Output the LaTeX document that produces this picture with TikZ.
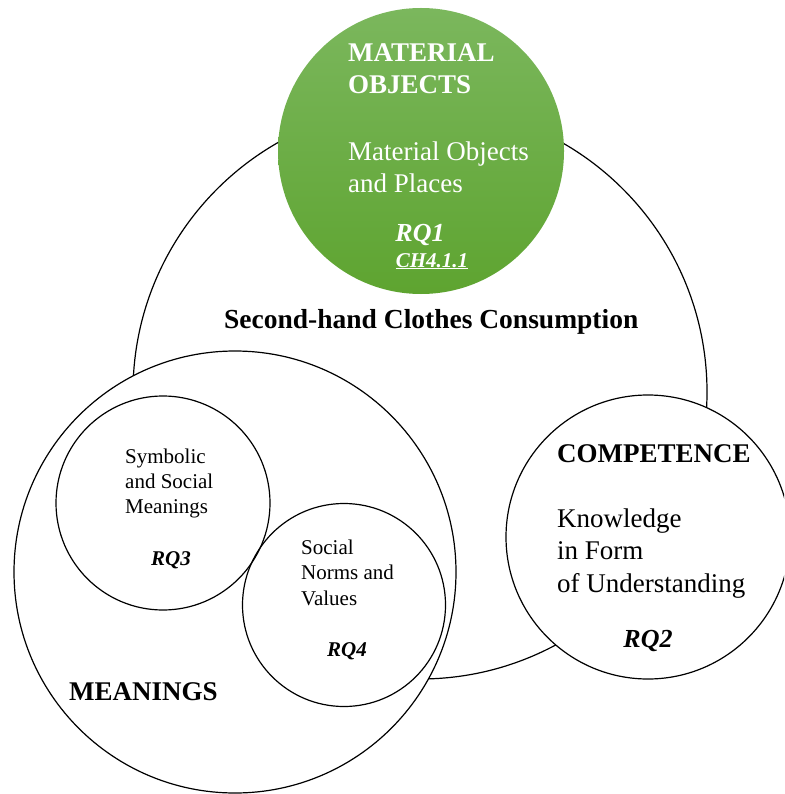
\documentclass[tikz,border=0pt]{standalone}
\usepackage{fontspec}
\setmainfont{Liberation Serif}
\definecolor{mogreentop}{RGB}{123,183,93}
\definecolor{mogreenbot}{RGB}{94,164,48}
\tikzset{
  ring/.style={draw,circle,line width=1.2pt,fill=white,inner sep=0pt},
  bigtext/.style={font=\fontsize{27}{32.5}\selectfont,align=left,inner sep=0pt,anchor=base west},
  smalltext/.style={font=\fontsize{21}{25}\selectfont,align=left,inner sep=0pt,anchor=base west},
  rqtext/.style={font=\bfseries\itshape,inner sep=0pt,anchor=base}
}
\begin{document}
\begin{tikzpicture}[x=1pt,y=-1pt]
  \useasboundingbox (0,0) rectangle (784,794);
  \clip (0,0) rectangle (784,794);
  \node[ring,minimum size=574pt] (consumption) at (420,392) {};
  \node[ring,minimum size=442pt] (meanings) at (235,572) {};
  \node[ring,fill=none,minimum size=214pt] (symbolic) at (163,503) {};
  \node[ring,fill=none,minimum size=203pt] (norms) at (344,605) {};
  \node[ring,minimum size=284pt] (competence) at (648,537) {};
  \node[circle,inner sep=0pt,minimum size=286pt,top color=mogreentop,bottom color=mogreenbot] (material) at (421,151) {};
  \node[bigtext,white,font=\fontsize{27}{32}\selectfont\bfseries] (mohead) at (348,94) {MATERIAL\\OBJECTS};
  \node[bigtext,white] (mobody) at (348,193) {Material Objects\\and Places};
  \node[rqtext,white,font=\fontsize{26}{30}\selectfont\bfseries\itshape] (rqone) at (420,241) {RQ1};
  \node[rqtext,white,font=\fontsize{21}{25}\selectfont\bfseries\itshape] (chapter) at (432,267) {\underline{CH4.1.1}};
  \node[bigtext,font=\fontsize{27.5}{32.5}\selectfont\bfseries] (title) at (224,328) {Second-hand Clothes Consumption};
  \node[smalltext] (symtext) at (125,513) {Symbolic\\and Social\\Meanings};
  \node[rqtext,font=\fontsize{21}{25}\selectfont\bfseries\itshape] (rqthree) at (171,565) {RQ3};
  \node[smalltext,font=\fontsize{21}{25.5}\selectfont] (normtext) at (301,605) {Social\\Norms and\\Values};
  \node[rqtext,font=\fontsize{21}{25}\selectfont\bfseries\itshape] (rqfour) at (347,656) {RQ4};
  \node[bigtext,font=\fontsize{27}{32.5}\selectfont\bfseries] (mhead) at (69,700) {MEANINGS};
  \node[bigtext,font=\fontsize{27}{32.5}\selectfont\bfseries] (chead) at (557,462) {COMPETENCE};
  \node[bigtext] (ctext) at (557,592) {Knowledge\\in Form\\of Understanding};
  \node[rqtext,font=\fontsize{26}{30}\selectfont\bfseries\itshape] (rqtwo) at (648,647) {RQ2};
\end{tikzpicture}
\end{document}
